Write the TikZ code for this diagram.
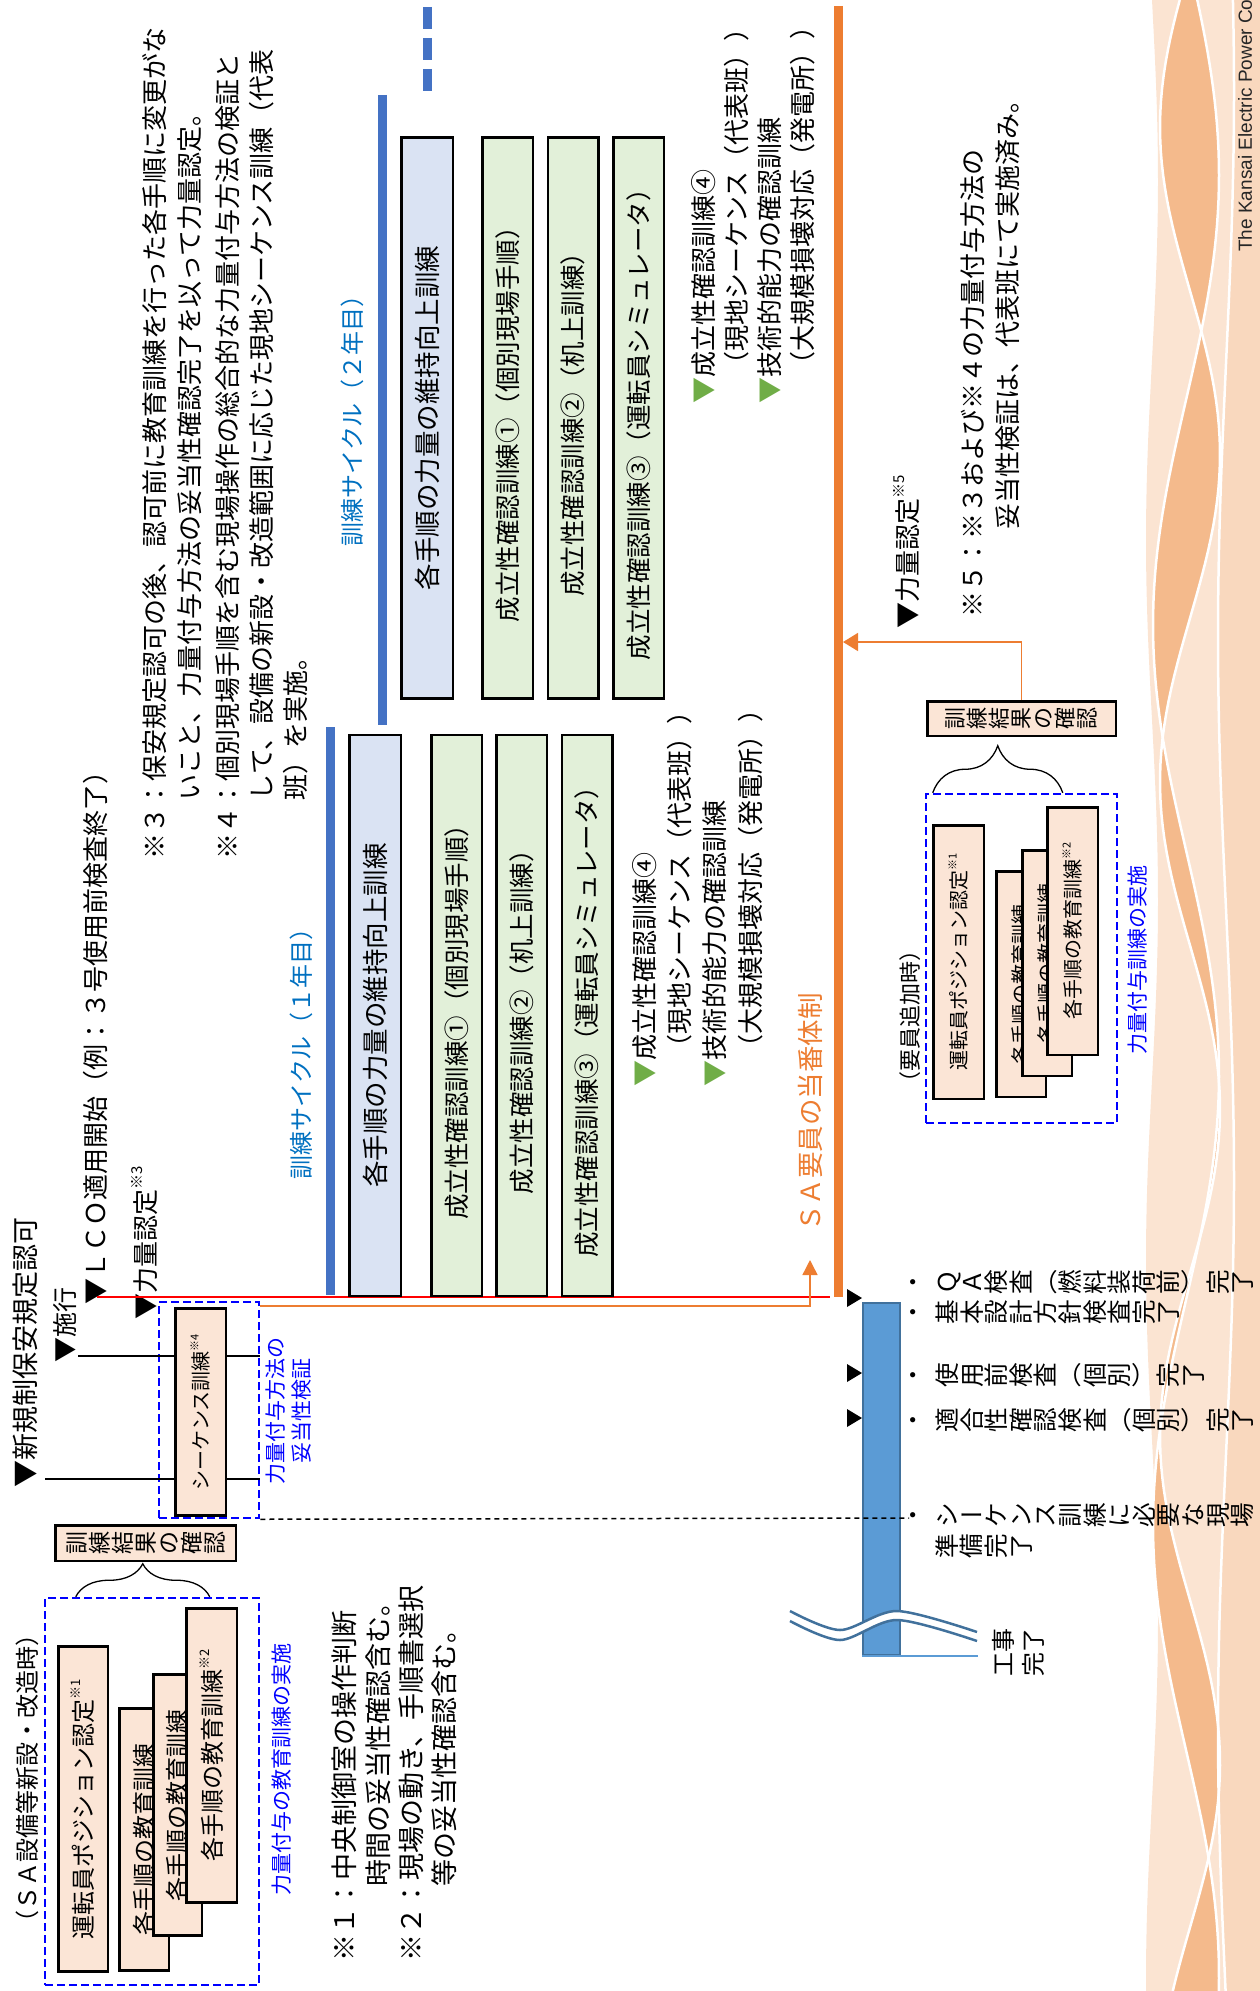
\documentclass[tikz,border=0pt]{standalone}
\usepackage{fontspec}
\usepackage{graphicx}
\setmainfont{Noto Sans CJK JP}
\newfontfamily\latinfont{Liberation Sans}
\usetikzlibrary{arrows.meta,decorations.pathreplacing,calc}

\definecolor{boxblue}{HTML}{DAE3F3}
\definecolor{boxgreen}{HTML}{E2F0D9}
\definecolor{boxpeach}{HTML}{FBE5D6}
\definecolor{barblue}{HTML}{4472C4}
\definecolor{cycleblue}{HTML}{0070C0}
\definecolor{pureblue}{HTML}{0000FF}
\definecolor{saorange}{HTML}{ED7D31}
\definecolor{listgreen}{HTML}{70AD47}
\definecolor{tlfill}{HTML}{5B9BD5}
\definecolor{tledge}{HTML}{41719C}
\definecolor{decolight}{HTML}{FBE4D2}
\definecolor{decomid}{HTML}{F9D8BE}
\definecolor{decodark}{HTML}{F4BA8C}

\makeatletter
\newcommand\fs[2]{\fontsize{#1}{#2}\selectfont}
% vertical writing: every character turned a quarter turn,
% brackets and the long vowel mark keep their upright glyph
\def\tate@lp{（}
\def\tate@rp{）}
\def\tate@bar{ー}
\newcommand\tate@turn{\rotatebox{90}{\makebox[1em]{\rule[-.12em]{0pt}{1em}\smash{\tate@c}}}}
\newcommand\tate@keep{\raisebox{.12em}{\makebox[1em]{\tate@c}}}
\newcommand\tate[2][0pt]{\@tfor\tate@c:=#2\do{%
  \ifx\tate@c\tate@lp\tate@keep
  \else\ifx\tate@c\tate@rp\tate@keep
  \else\ifx\tate@c\tate@bar\tate@keep
  \else\tate@turn\fi\fi\fi\kern#1\relax}}
\newcommand\supmark[2][13]{\raisebox{.5em}{\fontsize{#1}{#1}\selectfont #2}}
\makeatother

\begin{document}
\begin{tikzpicture}[x=1pt, y=-1pt,
  rtext/.style={rotate=90, inner sep=0pt, align=left},
  rbox/.style={rotate=90, draw=black, line width=2.5pt, inner sep=0pt, align=center},
  bluebox/.style={rbox, fill=boxblue, minimum width=561pt, minimum height=51.5pt, font=\fs{26.5}{30}},
  greenbox/.style={rbox, fill=boxgreen, minimum width=561pt, minimum height=50.5pt, font=\fs{25.5}{30}},
  peachbox/.style={rbox, fill=boxpeach},
  checkbox/.style={draw=black, line width=2.5pt, fill=boxpeach, inner sep=0pt},
  groupframe/.style={draw=pureblue, line width=2.5pt, dash pattern=on 8pt off 4pt, inner sep=0pt},
  cyclebar/.style={barblue, line width=9pt},
  markline/.style={line width=1.5pt},
  feed/.style={saorange, line width=1.5pt, -{Triangle[length=15pt, width=15pt]}},
  breakline/.style={tledge, line width=2.5pt},
  tlabel/.style={anchor=west, inner sep=0pt, font=\fs{24.6}{30}},
]
\useasboundingbox (0,0) rectangle (1260,1991);

% ---------- ribbon along the right edge ----------
\begin{scope}
\clip (0,0) rectangle (1260,1991);
\fill[decolight] plot[domain=0:1991, samples=120] ({1152+6*sin(0.5*\x)}, \x) -- (1270,1991) -- (1270,0) -- cycle;
\fill[decomid] plot[domain=0:1991, samples=120] ({1226+8*sin(0.33*\x+60)}, \x) -- (1270,1991) -- (1270,0) -- cycle;
\fill[decodark, even odd rule]
  plot[domain=0:1991, samples=160] ({1186+33*sin(0.40*\x+20)}, \x) -- (1270,1991) -- (1270,0) -- cycle
  plot[domain=0:1991, samples=160] ({1190+30*sin(0.55*\x+200)}, \x) -- (1270,1991) -- (1270,0) -- cycle;
\draw[white, line width=2.5pt] plot[domain=0:1991, samples=160] ({1186+33*sin(0.40*\x+20)}, \x);
\draw[white, line width=2.5pt] plot[domain=0:1991, samples=160] ({1190+30*sin(0.55*\x+200)}, \x);
\draw[white, line width=2.5pt] plot[domain=0:1991, samples=120] ({1226+8*sin(0.33*\x+60)}, \x);
\node[rtext, anchor=west, font=\latinfont\fs{19}{22}, text=black!85] (corp) at (1245,252) {The Kansai Electric Power Co};
\end{scope}

% ---------- notes ----------
\node[rtext, anchor=north west, font=\fs{26}{35}] (note3) at (142,860)
  {※３：保安規定認可の後、認可前に教育訓練を行った各手順に変更がな\\
   \hspace*{2.3em}いこと、力量付与方法の妥当性確認完了を以って力量認定。};
\node[rtext, anchor=north west, font=\fs{26}{34}] (note4) at (215,860)
  {※４：個別現場手順を含む現場操作の総合的な力量付与方法の検証と\\
   \hspace*{2.3em}して、設備の新設・改造範囲に応じた現地シーケンス訓練（代表\\
   \hspace*{2.3em}班）を実施。};
\node[rtext, anchor=north west, font=\fs{27}{33.3}] (note12) at (332,1962)
  {※１：中央制御室の操作判断\\
   \hspace*{2.8em}時間の妥当性確認含む。\\
   ※２：現場の動き、手順書選択\\
   \hspace*{2.8em}等の妥当性確認含む。};
\node[rtext, anchor=north west, font=\fs{26}{35}] (note5) at (960,618)
  {※５：※３および※４の力量付与方法の\\
   \hspace*{3.4em}妥当性検証は、代表班にて実施済み。};

% ---------- milestones ----------
\node[rtext, anchor=west, font=\fs{27}{30}] (newreg) at (25,1488) {▼新規制保安規定認可};
\node[rtext, anchor=west, font=\fs{25}{30}] (enforce) at (65,1363) {▼施行};
\node[rtext, anchor=west, font=\fs{26}{30}] (lco) at (96,1305) {▼ＬＣＯ適用開始（例：３号使用前検査終了）};
\node[rtext, anchor=west, font=\fs{26}{30}] (qual3) at (145,1320) {▼力量認定\supmark[15]{※3}};
\node[rtext, anchor=west, font=\fs{26}{30}] (qual5) at (907,629) {▼力量認定\supmark[15]{※5}};

\coordinate (newregL) at (45,1479);
\coordinate (enforceL) at (78,1356);
\coordinate (lcoL) at (97,1297);
\coordinate (lcoR) at (830,1297);
\coordinate (shiftTop) at (838.5,6);
\coordinate (shiftBot) at (838.5,1297);
\coordinate (shiftIn) at (810,1260);
\coordinate (shiftSide) at (843,642);
\coordinate (prepDot) at (909,1518);

% sequence training check
\node[groupframe, minimum width=100pt, minimum height=216pt] (seqframe) at (209,1410) {};
\draw[markline] (newregL) -- (newregL -| seqframe.east);
\draw[markline] (enforceL) -- (enforceL -| seqframe.east);
\node[peachbox, minimum width=207pt, minimum height=50.5pt, font=\fs{20}{24}] (seqbox) at (200.5,1412) {シーケンス訓練\supmark[11]{※4}};
\node[rtext, align=center, font=\fs{21}{26}, text=pureblue] (seqnote) at (289,1411) {力量付与方法の\\妥当性検証};

% LCO line and SA shift
\draw[red, line width=2pt] (lcoL) -- (lcoR);
\draw[saorange, line width=9pt] (shiftTop) -- (shiftBot);
\draw[feed] ($(seqframe.north east)+(0,5)$) -| (shiftIn);
\node[rtext, font=\fs{26.5}{30}, text=saorange] (shift) at (810,1112.5) {ＳＡ要員の当番体制};

% ---------- training cycles ----------
\node[rtext, font=\fs{24}{28}, text=cycleblue] (cyc1) at (301,1048) {訓練サイクル（１年目）};
\draw[cyclebar] (330.5,727) -- (330.5,1295);
\node[bluebox] (keep1) at (375,1015.5) {各手順の力量の維持向上訓練};
\node[greenbox] (g1a) at (456.5,1015.5) {成立性確認訓練①（個別現場手順）};
\node[greenbox] (g1b) at (521.5,1015.5) {成立性確認訓練②（机上訓練）};
\node[greenbox] (g1c) at (587,1015.5) {成立性確認訓練③（運転員シミュレータ）};
\node[rtext, anchor=north west, font=\fs{26}{35.3}] (list1) at (632,1087)
  {\textcolor{listgreen}{▼}成立性確認訓練④\\
   　（現地シーケンス（代表班））\\
   \textcolor{listgreen}{▼}技術的能力の確認訓練\\
   　（大規模損壊対応（発電所））};

\node[rtext, font=\fs{24}{28}, text=cycleblue] (cyc2) at (352,415) {訓練サイクル（２年目）};
\draw[cyclebar] (382.5,95) -- (382.5,725);
\draw[cyclebar, dash pattern=on 22pt off 9pt] (427,7) -- (427,94);
\node[bluebox] (keep2) at (427,418) {各手順の力量の維持向上訓練};
\node[greenbox] (g2a) at (507.5,418) {成立性確認訓練①（個別現場手順）};
\node[greenbox] (g2b) at (573,418) {成立性確認訓練②（机上訓練）};
\node[greenbox] (g2c) at (638.5,418) {成立性確認訓練③（運転員シミュレータ）};
\node[rtext, anchor=north west, font=\fs{26}{33}] (list2) at (691,404)
  {\textcolor{listgreen}{▼}成立性確認訓練④\\
   　（現地シーケンス（代表班））\\
   \textcolor{listgreen}{▼}技術的能力の確認訓練\\
   　（大規模損壊対応（発電所））};

% ---------- education at new installation ----------
\node[rtext, font=\fs{24}{28}] (satitle) at (27,1778) {（ＳＡ設備等新設・改造時）};
\node[groupframe, minimum width=214pt, minimum height=387pt] (eduframe) at (152,1791.5) {};
\node[peachbox, minimum width=325pt, minimum height=49.5pt, font=\fs{24}{28}] (posL) at (83,1809) {運転員ポジション認定\supmark{※1}};
\node[peachbox, minimum width=262pt, minimum height=49.5pt, font=\fs{24}{28}] (eduL1) at (144,1839.5) {各手順の教育訓練};
\node[peachbox, minimum width=261pt, minimum height=48.5pt, font=\fs{24}{28}] (eduL2) at (177.5,1805) {各手順の教育訓練};
\node[peachbox, minimum width=294pt, minimum height=50.5pt, font=\fs{24}{28}] (eduL3) at (211.5,1755.5) {各手順の教育訓練\supmark{※2}};
\node[rtext, font=\fs{21}{24}, text=pureblue] (edunoteL) at (282,1769) {力量付与の教育訓練の実施};
\node[checkbox, minimum width=180.5pt, minimum height=35.5pt, font=\fs{23}{23}] (checkL) at (145.5,1543) {\tate{訓練結果の確認}};
\draw[line width=1.3pt, decorate, decoration={brace, amplitude=33pt}]
  ($(eduframe.north west)+(32,0)$) -- ($(eduframe.north west)+(166,0)$);

% ---------- education when staff is added ----------
\node[rtext, font=\fs{22}{26}] (addtitle) at (910,1016) {（要員追加時）};
\node[groupframe, minimum width=191pt, minimum height=329pt] (addframe) at (1021.5,958.5) {};
\node[peachbox, minimum width=273.5pt, minimum height=50.5pt, font=\fs{20}{24}] (posR) at (958.5,962) {運転員ポジション認定\supmark[11]{※1}};
\node[peachbox, minimum width=225.5pt, minimum height=49.5pt, font=\fs{20}{24}] (eduR1) at (1021,984) {各手順の教育訓練};
\node[peachbox, minimum width=225.5pt, minimum height=49.5pt, font=\fs{20}{24}] (eduR2) at (1047,963) {各手順の教育訓練};
\node[peachbox, minimum width=247.5pt, minimum height=50.5pt, font=\fs{20}{24}] (eduR3) at (1072.5,931) {各手順の教育訓練\supmark[11]{※2}};
\node[rtext, font=\fs{21}{24}, text=pureblue] (edunoteR) at (1138,960) {力量付与訓練の実施};
\node[checkbox, minimum width=188.5pt, minimum height=34.5pt, font=\fs{22}{22}] (checkR) at (1021.5,718.5) {\tate{訓練結果の確認}};
\draw[line width=1.3pt, decorate, decoration={brace, amplitude=47pt}]
  ($(addframe.north west)+(8,0)$) -- ($(addframe.north west)+(138,0)$);
\draw[feed, -{Triangle[length=15pt, width=18pt]}] (checkR.north) |- (shiftSide);

% ---------- construction timeline ----------
\node[draw=tledge, fill=tlfill, line width=2pt, minimum width=37pt, minimum height=352pt, inner sep=0pt] (tbar) at (881.5,1479) {};
\foreach \ty in {1298,1373,1418}
  \fill (tbar.west |- 0,\ty) -- ++(-15,-9) -- ++(0,18) -- cycle;
\draw[tlfill, line width=2pt] (tbar.south west) -- ++(116,0);
\draw[white, line width=8pt] plot[smooth] coordinates {(790,1616) (840,1635) (897,1615.5) (977,1636.5)};
\draw[breakline] plot[smooth] coordinates {(790,1611) (840,1630) (897,1611) (977,1632)};
\draw[breakline] plot[smooth] coordinates {(790,1621) (840,1640) (897,1620) (977,1641)};
\draw[markline, dash pattern=on 5pt off 4pt] (seqframe.south east) -- (prepDot);

\node[tlabel] (tl1) at (901,1282) {\tate{・}\hspace{9pt}\tate{ＱＡ検査（燃料装荷前）完了}};
\node[tlabel] (tl2) at (901,1312) {\tate{・}\hspace{9pt}\tate{基本設計方針検査完了}};
\node[tlabel] (tl3) at (901,1375) {\tate{・}\hspace{9pt}\tate{使用前検査（個別）完了}};
\node[tlabel] (tl4) at (901,1420) {\tate{・}\hspace{9pt}\tate{適合性確認検査（個別）完了}};
\node[tlabel] (tl5) at (901,1515) {\tate{・}\hspace{9pt}\tate{シーケンス訓練に必要な現場}};
\node[tlabel] (tl5b) at (934.5,1546) {\tate{準備完了}};
\node[rtext, font=\fs{24}{30}] (done) at (1018,1652) {工事\\完了};

\end{tikzpicture}
\end{document}
